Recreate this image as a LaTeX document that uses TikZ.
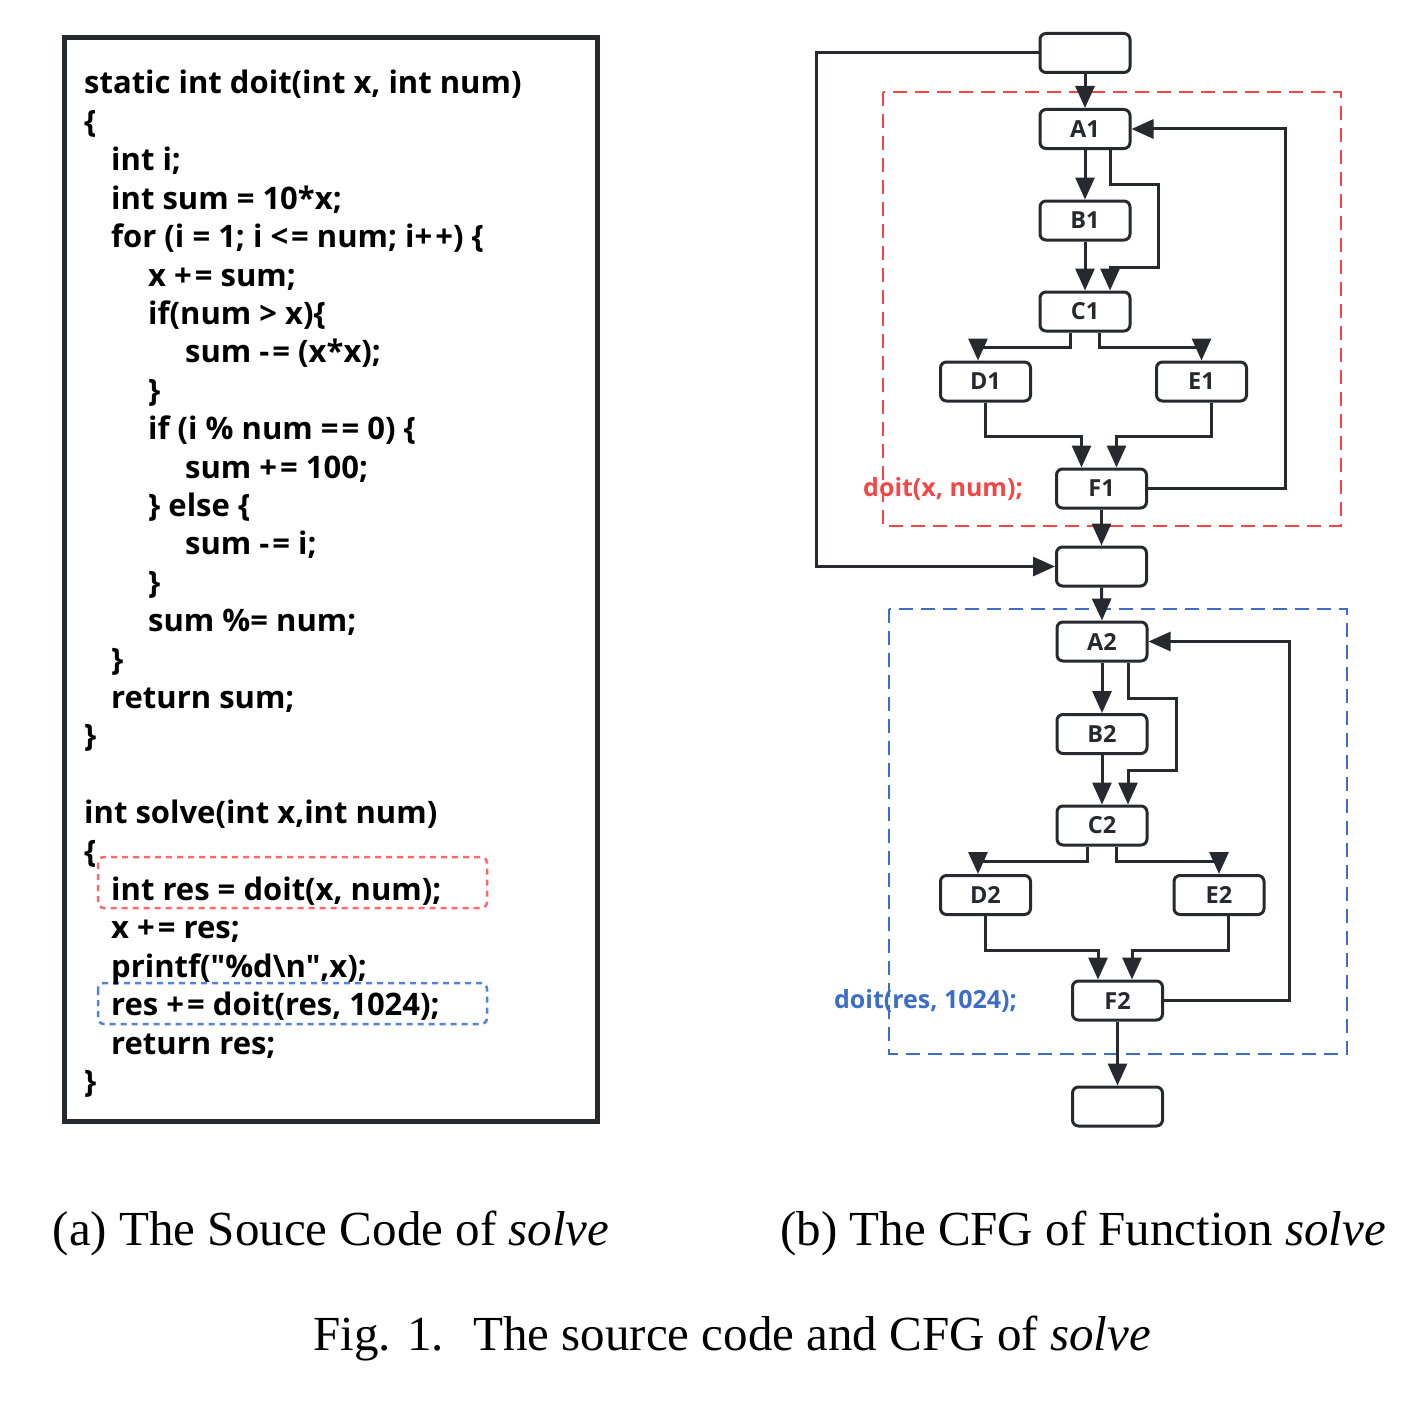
\documentclass[tikz,border=0pt]{standalone}
\usepackage{fontspec}
\setmainfont{Liberation Serif}
\newfontfamily\codefont{Open Sans}[WordSpace=1.15]
\newfontfamily\cfgfont{Open Sans}
\usetikzlibrary{arrows.meta}
\definecolor{linec}{RGB}{38,42,46}
\definecolor{boxred}{RGB}{245,70,70}
\definecolor{boxblue}{RGB}{60,110,200}
\definecolor{codered}{RGB}{255,105,105}
\definecolor{codeblue}{RGB}{85,130,210}
\newcommand\opgap{\kern3pt}
\tikzset{
  codeline/.style={anchor=base west, inner sep=0pt, text=black, font=\codefont\bfseries\fontsize{31}{36}\selectfont},
  blk/.style={draw=linec, line width=3pt, rounded corners=6pt, fill=white, minimum width=90pt, minimum height=39pt, inner sep=0pt, text=linec, font=\cfgfont\bfseries\fontsize{23.5}{27}\selectfont},
  flow/.style={draw=linec, line width=3pt, -{Triangle[length=22pt,width=19pt]}},
  region/.style={line width=2pt, dash pattern=on 14pt off 8pt},
  codemark/.style={line width=2.5pt, rounded corners=6pt, dash pattern=on 6pt off 5pt},
  lbl/.style={inner sep=0pt, font=\cfgfont\bfseries\fontsize{25}{29}\selectfont},
  capt/.style={inner sep=0pt, anchor=base, font=\fontsize{49}{56}\selectfont}
}
\begin{document}
\begin{tikzpicture}[x=1pt,y=-1pt]
\useasboundingbox (0,0) rectangle (1400,1402);
\fill[white] (0,0) rectangle (1400,1402);

% ---------- source code panel ----------
\draw[linec, line width=5pt] (64.5,37.5) rectangle (597.5,1121.5);
\draw[codemark, codered] (98,857) rectangle (487,908);
\draw[codemark, codeblue] (98,983) rectangle (487,1024);

\node[codeline] (l0)  at (84, 94.0)   {static int doit(int x, int num)};
\node[codeline] (l1)  at (84, 132.4)  {\{};
\node[codeline] (l2)  at (111,170.8)  {int i;};
\node[codeline] (l3)  at (111,209.2)  {int sum = 10*x;};
\node[codeline] (l4)  at (111,247.6)  {for (i = 1; i <\opgap= num; i+\opgap+) \{};
\node[codeline] (l5)  at (148,286.0)  {x +\opgap= sum;};
\node[codeline] (l6)  at (148,324.4)  {if(num > x)\{};
\node[codeline] (l7)  at (185,362.8)  {sum -\opgap= (x*x);};
\node[codeline] (l8)  at (148,401.2)  {\}};
\node[codeline] (l9)  at (148,439.6)  {if (i \% num =\opgap= 0) \{};
\node[codeline] (l10) at (185,478.0)  {sum +\opgap= 100;};
\node[codeline] (l11) at (148,516.4)  {\} else \{};
\node[codeline] (l12) at (185,554.8)  {sum -\opgap= i;};
\node[codeline] (l13) at (148,593.2)  {\}};
\node[codeline] (l14) at (148,631.6)  {sum \%= num;};
\node[codeline] (l15) at (111,670.0)  {\}};
\node[codeline] (l16) at (111,708.4)  {return sum;};
\node[codeline] (l17) at (84, 746.8)  {\}};
\node[codeline] (l19) at (84, 823.6)  {int solve(int x,int num)};
\node[codeline] (l20) at (84, 862.0)  {\{};
\node[codeline] (l21) at (111,900.4)  {int res = doit(x, num);};
\node[codeline] (l22) at (111,938.8)  {x +\opgap= res;};
\node[codeline] (l23) at (111,977.2)  {printf("\%d\textbackslash n",x);};
\node[codeline] (l24) at (111,1015.6) {res +\opgap= doit(res, 1024);};
\node[codeline] (l25) at (111,1054.0) {return res;};
\node[codeline] (l26) at (84, 1092.4) {\}};

% ---------- CFG ----------
\draw[region, boxred]  (883,92) rectangle (1341,526);
\draw[region, boxblue] (889,609) rectangle (1347,1054);

\node[blk] (top) at (1085,53)     {};
\node[blk] (A1)  at (1085,129)    {A1};
\node[blk] (B1)  at (1085,220.5)  {B1};
\node[blk] (C1)  at (1085,311.5)  {C1};
\node[blk] (D1)  at (985.5,381.5) {D1};
\node[blk] (E1)  at (1201.5,381.5){E1};
\node[blk] (F1)  at (1101.5,488.5){F1};
\node[blk] (mid) at (1101.5,566.5){};
\node[blk] (A2)  at (1102,641.5)  {A2};
\node[blk] (B2)  at (1102,734)    {B2};
\node[blk] (C2)  at (1102,825.5)  {C2};
\node[blk] (D2)  at (985.5,895)   {D2};
\node[blk] (E2)  at (1219,895)    {E2};
\node[blk] (F2)  at (1117.5,1000.5){F2};
\node[blk] (bot) at (1117.5,1106.5){};

\node[lbl, text=boxred]  (lab1) at (943,489)    {doit(x, num);};
\node[lbl, text=boxblue] (lab2) at (925.5,1001) {doit(res, 1024);};

\draw[flow] (top.south) -- (A1.north);
\draw[flow] (top.west) -- ++(-222,0) |- (mid.west);
\draw[flow] (A1.south) -- (B1.north);
\draw[flow] ([xshift=25pt]A1.south) -- ++(0,34) -- ++(48,0) -- ++(0,83) -- ++(-48,0) -- ([xshift=25pt]C1.north);
\draw[flow] (B1.south) -- (C1.north);
\draw[flow] ([xshift=-15pt]C1.south) -- ++(0,15) -| ([xshift=-7.5pt]D1.north);
\draw[flow] ([xshift=14pt]C1.south) -- ++(0,15) -| (E1.north);
\draw[flow] (D1.south) -- ++(0,34) -| ([xshift=-20pt]F1.north);
\draw[flow] ([xshift=9.5pt]E1.south) -- ++(0,34) -| ([xshift=15pt]F1.north);
\draw[flow] (F1.east) -- ++(137,0) |- (A1.east);
\draw[flow] (F1.south) -- (mid.north);
\draw[flow] (mid.south) -- (A2.north);
\draw[flow] (A2.south) -- (B2.north);
\draw[flow] ([xshift=26pt]A2.south) -- ++(0,36) -- ++(48,0) -- ++(0,72) -- ++(-48,0) -- ([xshift=26pt]C2.north);
\draw[flow] (B2.south) -- (C2.north);
\draw[flow] ([xshift=-14.5pt]C2.south) -- ++(0,15) -| ([xshift=-7.5pt]D2.north);
\draw[flow] ([xshift=14.5pt]C2.south) -- ++(0,15) -| (E2.north);
\draw[flow] (D2.south) -- ++(0,34) -| ([xshift=-19.5pt]F2.north);
\draw[flow] ([xshift=9pt]E2.south) -- ++(0,34) -| ([xshift=14.5pt]F2.north);
\draw[flow] (F2.east) -- ++(125,0) |- (A2.east);
\draw[flow] (F2.south) -- (bot.north);

% ---------- captions ----------
\node[capt] (capa) at (331,1245) {(a) The Souce Code of \textit{solve}};
\node[capt] (capb) at (1083,1245) {(b) The CFG of Function \textit{solve}};
\node[capt] (capf) at (732,1350) {Fig. 1.\hspace{0.6em}The source code and CFG of \textit{solve}};
\end{tikzpicture}
\end{document}
